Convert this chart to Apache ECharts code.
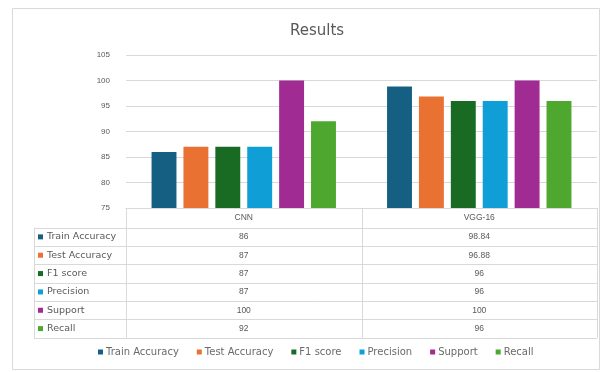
<!DOCTYPE html>
<html>
<head>
<meta charset="utf-8">
<script src="https://cdn.jsdelivr.net/npm/echarts@6/dist/echarts.min.js"></script>
<style>
  html, body { margin: 0; padding: 0; background: #ffffff; }
  #chart { width: 603px; height: 372px; }
</style>
</head>
<body>
<div id="chart"></div>
<script>
// Model names along the category axis
const models = ['CNN', 'VGG-16'];

// Metric series, one value per model
const seriesNames = ['Train Accuracy', 'Test Accuracy', 'F1 score', 'Precision', 'Support', 'Recall'];
const trainAccuracy = [86, 98.84];
const testAccuracy = [87, 96.88];
const f1Score = [87, 96];
const precision = [87, 96];
const support = [100, 100];
const recall = [92, 96];

// Value axis ticks
const yTicks = [75, 80, 85, 90, 95, 100, 105];

const seriesValues = [trainAccuracy, testAccuracy, f1Score, precision, support, recall];
const palette = ['#156082', '#E97132', '#196B24', '#0F9ED5', '#A02B93', '#4EA72E'];

const FONT = 'Liberation Sans';
const WIDE = 'DejaVu Sans';
const TEXT = '#595959';
const LINE = '#d9d9d9';

// Plot area and data-table geometry
const plotLeft = 126, plotRight = 597, plotTop = 55, plotBottom = 208;
const tableLeft = 34, rowH = 18.35, headerBottom = 227.7;

const chart = echarts.init(document.getElementById('chart'), null, { renderer: 'canvas' });

const option = {
  animation: false,
  backgroundColor: '#ffffff',
  color: palette,
  title: {
    text: 'Results',
    left: 312, top: 19, textAlign: 'center',
    textStyle: { fontFamily: WIDE, fontSize: 15, fontWeight: 'normal', color: TEXT }
  },
  legend: {
    data: seriesNames,
    left: 93, top: 342,
    itemWidth: 5, itemHeight: 5, itemGap: 18,
    icon: 'rect',
    textStyle: { fontFamily: WIDE, fontSize: 10, color: '#6a6a6a', padding: [0, 0, 0, -2] }
  },
  grid: {
    left: plotLeft, right: 603 - plotRight, top: plotTop, height: plotBottom - plotTop,
    containLabel: false
  },
  xAxis: {
    type: 'category',
    data: models,
    axisLine: { show: true, lineStyle: { color: LINE } },
    axisTick: { show: false },
    axisLabel: { fontFamily: FONT, fontSize: 8.5, color: TEXT, margin: 5 }
  },
  yAxis: {
    type: 'value',
    min: yTicks[0], max: yTicks[yTicks.length - 1], interval: yTicks[1] - yTicks[0],
    axisLine: { show: false },
    axisTick: { show: false },
    splitLine: { lineStyle: { color: LINE } },
    axisLabel: { fontFamily: FONT, fontSize: 8, color: TEXT, margin: 16 }
  },
  series: seriesNames.map((name, i) => ({
    name: name,
    type: 'bar',
    data: seriesValues[i],
    barGap: '28%',
    barCategoryGap: '21.7%',
    itemStyle: { color: palette[i] }
  }))
};

chart.setOption(option);

// Data table beneath the plot, aligned to the category axis
const els = [];
const tableBottom = headerBottom + rowH * seriesNames.length;
const lineStyle = { stroke: LINE, lineWidth: 1 };

// outer chart frame
els.push({ type: 'rect', shape: { x: 12.5, y: 8.5, width: 587, height: 361 },
  style: { fill: null, stroke: LINE, lineWidth: 1 }, silent: true });

// horizontal rules
for (let r = 0; r <= seriesNames.length; r++) {
  const y = Math.round(headerBottom + r * rowH) + 0.5;
  els.push({ type: 'line', shape: { x1: tableLeft, y1: y, x2: plotRight, y2: y }, style: lineStyle, silent: true });
}
// vertical rules: table left edge and category boundaries
els.push({ type: 'line', shape: { x1: tableLeft + 0.5, y1: headerBottom, x2: tableLeft + 0.5, y2: tableBottom }, style: lineStyle, silent: true });
const catW = (plotRight - plotLeft) / models.length;
for (let c = 0; c <= models.length; c++) {
  const x = Math.round(plotLeft + c * catW) + 0.5;
  els.push({ type: 'line', shape: { x1: x, y1: plotBottom, x2: x, y2: tableBottom }, style: lineStyle, silent: true });
}

// row labels with colour keys and values
seriesNames.forEach((name, r) => {
  const yc = headerBottom + (r + 0.5) * rowH;
  els.push({ type: 'rect', shape: { x: tableLeft + 4, y: yc - 2.5, width: 5, height: 5 },
    style: { fill: palette[r] }, silent: true });
  els.push({ type: 'text', x: tableLeft + 13, y: yc,
    style: { text: name, fontFamily: WIDE, fontSize: 9.5, fill: TEXT, verticalAlign: 'middle', align: 'left' }, silent: true });
  models.forEach((m, c) => {
    const xc = chart.convertToPixel({ xAxisIndex: 0 }, m);
    els.push({ type: 'text', x: xc, y: yc,
      style: { text: String(seriesValues[r][c]), fontFamily: FONT, fontSize: 8.5, fill: TEXT, verticalAlign: 'middle', align: 'center' }, silent: true });
  });
});

chart.setOption({ graphic: els });
</script>
</body>
</html>
